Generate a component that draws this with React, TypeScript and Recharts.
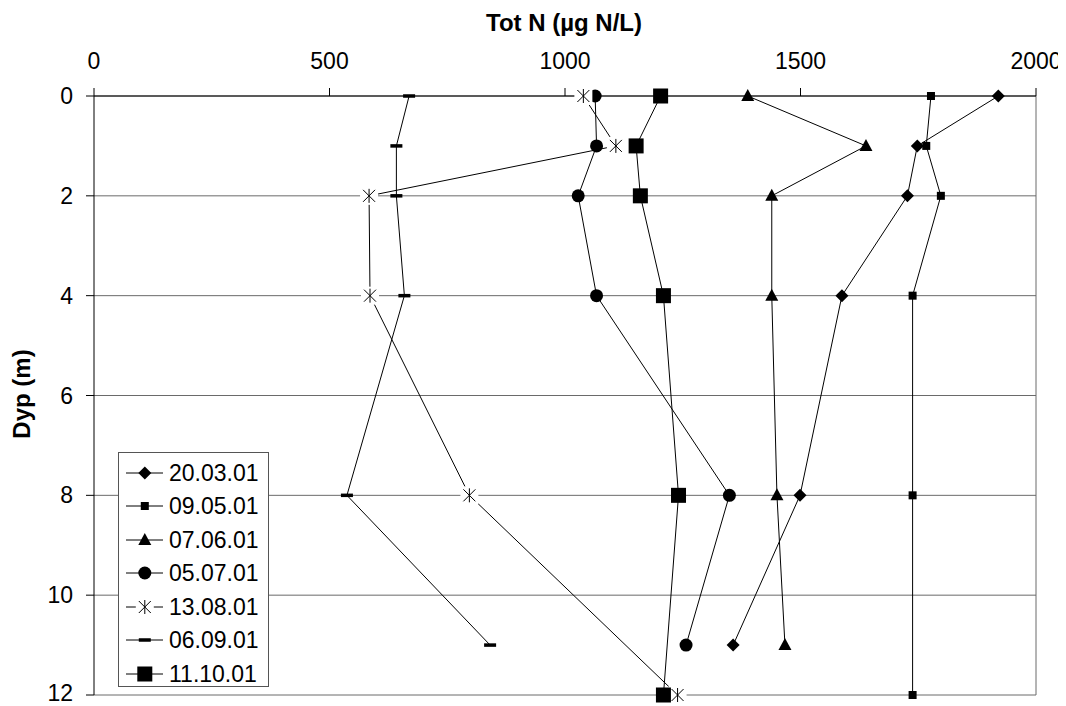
import React from 'react';
import {
  ScatterChart,
  Scatter,
  XAxis,
  YAxis,
  CartesianGrid,
  ReferenceLine,
  Legend,
} from 'recharts';

// depths (m) — some profiles stop at 11 m, others at 12 m
const depthsTo11 = [0, 1, 2, 4, 8, 11];
const depthsTo12 = [0, 1, 2, 4, 8, 12];

// Tot N (µg N/L) per sampling date
const n200301 = [1920, 1748, 1727, 1588, 1499, 1357];
const n090501 = [1777, 1767, 1798, 1738, 1738, 1738];
const n070601 = [1388, 1639, 1439, 1439, 1450, 1467];
const n050701 = [1064, 1067, 1028, 1067, 1349, 1257];
const n130801 = [1039, 1108, 584, 586, 797, 1239];
const n060901 = [669, 642, 642, 659, 537, 841];
const n111001 = [1203, 1151, 1160, 1209, 1241, 1209];

const xTicks = [0, 500, 1000, 1500, 2000];
const yTicks = [0, 2, 4, 6, 8, 10, 12];

type Kind = 'diamond' | 'smallSquare' | 'triangle' | 'circle' | 'asterisk' | 'dash' | 'bigSquare';

const series: { name: string; values: number[]; depths: number[]; kind: Kind }[] = [
  { name: '20.03.01', values: n200301, depths: depthsTo11, kind: 'diamond' },
  { name: '09.05.01', values: n090501, depths: depthsTo12, kind: 'smallSquare' },
  { name: '07.06.01', values: n070601, depths: depthsTo11, kind: 'triangle' },
  { name: '05.07.01', values: n050701, depths: depthsTo11, kind: 'circle' },
  { name: '13.08.01', values: n130801, depths: depthsTo12, kind: 'asterisk' },
  { name: '06.09.01', values: n060901, depths: depthsTo11, kind: 'dash' },
  { name: '11.10.01', values: n111001, depths: depthsTo12, kind: 'bigSquare' },
];

const FONT = '"Liberation Sans", Arial, sans-serif';

const drawMarker = (kind: Kind, cx: number, cy: number) => {
  switch (kind) {
    case 'diamond':
      return <polygon points={`${cx},${cy - 6.5} ${cx + 6.5},${cy} ${cx},${cy + 6.5} ${cx - 6.5},${cy}`} fill="#000" />;
    case 'smallSquare':
      return <rect x={cx - 4} y={cy - 4} width={8} height={8} fill="#000" />;
    case 'triangle':
      return <polygon points={`${cx},${cy - 7} ${cx + 6.5},${cy + 5} ${cx - 6.5},${cy + 5}`} fill="#000" />;
    case 'circle':
      return <circle cx={cx} cy={cy} r={6.5} fill="#000" />;
    case 'asterisk':
      return (
        <g>
          <rect x={cx - 9} y={cy - 9} width={18} height={18} fill="#fff" />
          <line x1={cx - 6} y1={cy - 6} x2={cx + 6} y2={cy + 6} stroke="#000" strokeWidth={1} />
          <line x1={cx - 6} y1={cy + 6} x2={cx + 6} y2={cy - 6} stroke="#000" strokeWidth={1} />
          <line x1={cx} y1={cy - 7} x2={cx} y2={cy + 7} stroke="#000" strokeWidth={1} />
        </g>
      );
    case 'dash':
      return <rect x={cx - 6} y={cy - 1.75} width={12} height={3.5} fill="#000" />;
    case 'bigSquare':
      return <rect x={cx - 7.5} y={cy - 7.5} width={15} height={15} fill="#000" />;
  }
};

const renderLegend = () => (
  <div
    style={{
      position: 'relative',
      width: 151,
      height: 235,
      border: '1px solid #555',
      boxSizing: 'border-box',
      background: '#fff',
      fontFamily: FONT,
      fontSize: 23,
      color: '#000',
    }}
  >
    {series.map((s, i) => (
      <div
        key={s.name}
        style={{
          position: 'absolute',
          left: 0,
          top: 20 - 17 + i * 33.45,
          height: 34,
          display: 'flex',
          alignItems: 'center',
        }}
      >
        <svg width={50} height={34} style={{ display: 'block' }}>
          <line x1={7} y1={17} x2={44} y2={17} stroke="#000" strokeWidth={1} />
          {drawMarker(s.kind, 25.8, 17)}
        </svg>
        <span style={{ lineHeight: '34px' }}>{s.name}</span>
      </div>
    ))}
  </div>
);

export default function App() {
  return (
    <div style={{ position: 'relative', width: 1058, height: 698, background: '#fff' }}>
      <ScatterChart
        width={1058}
        height={698}
        margin={{ top: 28, right: 30, bottom: 11, left: 0 }}
        style={{ fontFamily: FONT }}
      >
        <CartesianGrid vertical={false} stroke="#6a6a6a" strokeWidth={1} />
        <ReferenceLine x={2000} stroke="#6a6a6a" strokeWidth={1} />
        <XAxis
          type="number"
          dataKey="x"
          orientation="top"
          domain={[0, 2000]}
          ticks={xTicks}
          height={60}
          tickSize={8}
          tickMargin={19}
          axisLine={{ stroke: '#000' }}
          tickLine={{ stroke: '#000' }}
          tick={{ fill: '#000', fontSize: 23, fontFamily: FONT }}
        />
        <YAxis
          type="number"
          dataKey="y"
          reversed
          domain={[0, 12]}
          ticks={yTicks}
          width={86}
          tickSize={8}
          tickMargin={13}
          axisLine={{ stroke: '#000' }}
          tickLine={{ stroke: '#000' }}
          tick={{ fill: '#000', fontSize: 23, fontFamily: FONT }}
        />
        {series.map((s) => (
          <Scatter
            key={s.name}
            name={s.name}
            data={s.values.map((v, i) => ({ x: v, y: s.depths[i] }))}
            line={{ stroke: '#000', strokeWidth: 1 }}
            lineType="joint"
            shape={(p: any) => drawMarker(s.kind, p.cx, p.cy)}
            isAnimationActive={false}
          />
        ))}
        <Legend
          layout="vertical"
          align="center"
          verticalAlign="middle"
          content={renderLegend}
          wrapperStyle={{ left: 110, top: 444, width: 151, height: 235 }}
        />
      </ScatterChart>
      <svg
        width={1058}
        height={698}
        style={{ position: 'absolute', left: 0, top: 0, pointerEvents: 'none' }}
      >
        <text x={556} y={23} textAnchor="middle" fontFamily={FONT} fontWeight="bold" fontSize={24} fill="#000">
          Tot N (µg N/L)
        </text>
        <text
          x={22}
          y={386}
          transform="rotate(-90 22 386)"
          textAnchor="middle"
          fontFamily={FONT}
          fontWeight="bold"
          fontSize={24}
          fill="#000"
        >
          Dyp (m)
        </text>
      </svg>
    </div>
  );
}
